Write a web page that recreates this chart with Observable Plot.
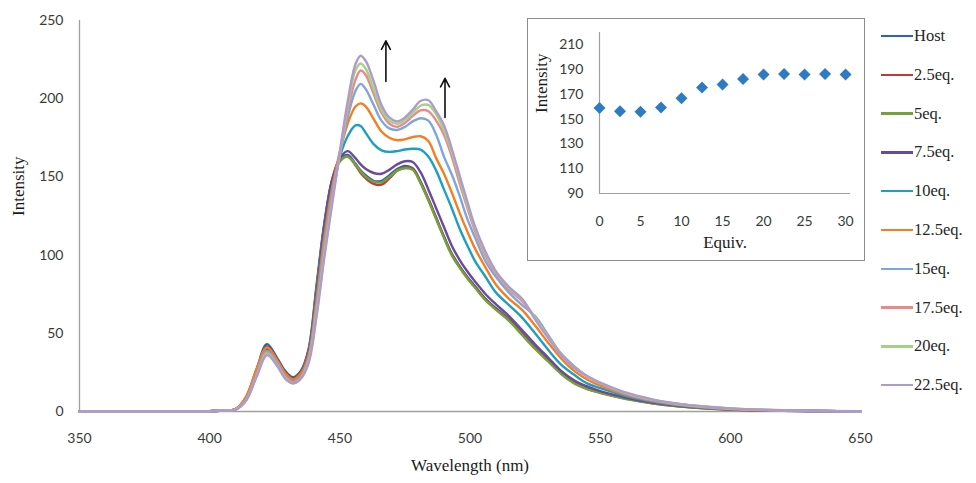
<!DOCTYPE html>
<html>
<head>
<meta charset="utf-8">
<script src="https://cdn.jsdelivr.net/npm/d3@7"></script>
<script src="https://cdn.jsdelivr.net/npm/@observablehq/plot@0.6"></script>
<style>
  html, body { margin: 0; padding: 0; background: #fff; }
  #wrap { position: relative; width: 976px; height: 483px; overflow: hidden; }
  #main { position: absolute; left: 0; top: 0; }
  #insetBox { position: absolute; left: 527px; top: 18px; width: 338px; height: 243px; box-sizing: border-box; border: 1px solid #8c8c8c; background: #fff; }
  #inset { position: absolute; left: 527px; top: 18px; }
  #legend { position: absolute; left: 881px; top: 0; }
  .lg-row { position: absolute; left: 0; height: 20px; white-space: nowrap; display: flex; align-items: center; }
  .lg-line { width: 32px; height: 2.5px; margin-right: 1px; }
  .lg-text { font-family: "Liberation Serif", "DejaVu Serif", serif; font-size: 16.5px; font-weight: normal; color: #262626; }
</style>
</head>
<body>
<div id="wrap">
  <div id="main"></div>
  <div id="insetBox"></div>
  <div id="inset"></div>
  <div id="legend"></div>
</div>
<script>
// ---------- data ----------
const wavelengths = [350,380,400,405,410,414,418,422,426,429,432,435,438,441,444,447,450,453,456,458,460,463,466,469,472,475,478,481,484,487,490,493,496,499,502,506,510,515,520,525,530,535,540,545,550,560,570,580,590,600,620,650];

const seriesNames = ["Host","2.5eq.","5eq.","7.5eq.","10eq.","12.5eq.","15eq.","17.5eq.","20eq.","22.5eq."];
const seriesColors = ["#2A66AE","#C4383A","#72A23A","#6C4A9A","#1E9FBE","#F57E22","#7EA6DE","#E88A8C","#A8CF86","#AE9BCB"];

const hostI   = [0,0,0.2,0.6,1.5,9,27,43,34,26,22,26,40,80,120,148,161,164,158.5,154,151,147.5,147.5,151,155,157,
                 155.5,147,136,124,112,101,93,86,80,72,66,59,50,41,33,25,19,15,12.5,8.5,5.5,3.5,2.2,1.3,0.5,0.1];
const eq2_5I  = [0,0,0.2,0.6,1.5,9,26,41.5,33,25,21,25,39,78,119,147,160,163,157.5,152.5,149,145.5,145,149,154,156,
                 155,146.5,135.5,123.5,111.5,100.5,92.5,85.5,79.5,71.5,65.5,58.5,49.5,40.5,32.5,24.5,18.5,14.5,12,8.2,5.3,3.4,2.1,1.2,0.5,0.1];
const eq5I    = [0,0,0.2,0.6,1.4,8.5,25.5,40.5,32.5,24.5,20.5,24.5,38,77,118,146.5,160,163,158,153.5,150,147,146.5,150,154,155.5,
                 154.5,146,135,123,111,100,92,85,79,71,65,58,49,40,32,24,18,14.3,12,8,5.2,3.3,2,1.2,0.5,0.1];
const eq7_5I  = [0,0,0.2,0.6,1.4,8.5,25,39.5,32,24,20,24,37.5,76,118,148,162,166.5,162,158,155,152.5,152,154.5,158,160,
                 159.5,153,142,130,118,106,97,89.5,83,75,68.5,61,52,43,34.5,26,20,16,13,8.8,5.7,3.6,2.3,1.4,0.5,0.1];
const eq10I   = [0,0,0.2,0.6,1.4,8.5,25,39,31.5,23.5,19.5,23,35,72,112,143,163,176,183,182.5,178,171,167,166,166.5,167.5,
                 168,167.5,163,154,142,130,117,106,96,86,76,68,60,50,39.5,30,23.5,18,15,9.8,6.3,4,2.5,1.5,0.6,0.1];
const eq12_5I = [0,0,0.2,0.7,1.6,9.5,27,41,32.5,24.5,20.5,24,36,70,110,142,166,184,195,197,195,187,179,175,173.5,174,
                 175.5,176,173,162,152,140,127,115,104,92,81,72,65,55,44,34,26,20.5,16.5,10.6,6.8,4.3,2.7,1.6,0.6,0.1];
const eq15I   = [0,0,0.2,0.6,1.3,8,24,38.5,31,22.5,19,22,34,66,105,138,164,188,205,209.5,206,196,186,181,180,182,
                 185.5,187.5,186,177,163,151.5,138,123,111,96,86,76,68,61,49,37,29,22.5,18,11.3,7.2,4.6,2.9,1.7,0.7,0.1];
const eq17_5I = [0,0,0.2,0.6,1.3,7.5,23,37.5,30,22,18.5,21.5,33,64,102,136,164,192,212,218,215,203,191,184,182,184.5,
                 189,192.5,192,186,177,163,146,130,115,99.5,88,78,70.5,60,48,36.5,28.5,22.5,18,11.6,7.4,4.7,3,1.8,0.7,0.15];
const eq20I   = [0,0,0.2,0.6,1.2,7,22.5,37,29.5,21.5,18,21,32,62,100,134,165,195,218,222.5,219,206,193,186,184,186.5,
                 191,195.5,196,190,180,166,149,132,117,101,89,79,71.5,60,47.5,36,28,22.5,18.3,11.8,7.6,4.8,3.1,1.9,0.75,0.15];
const eq22_5I = [0,0,0.2,0.6,1.2,7,22,36,29,21,18,21,31,60,98,132,166,198,222,227.5,224,211,196,188,185.5,188,
                 193,198.5,199,192,183,168,151,134,118,102,89.5,79.5,72,59,47,36,28,22.5,18.5,12,7.8,5,3.2,2,0.8,0.2];

const seriesValues = [hostI, eq2_5I, eq5I, eq7_5I, eq10I, eq12_5I, eq15I, eq17_5I, eq20I, eq22_5I];

const xTicks = [350,400,450,500,550,600,650];
const yTicks = [0,50,100,150,200,250];

// arrows (data units): wavelength, from intensity, to intensity
const arrowX  = [467.7, 490.4];
const arrowY1 = [211, 188];
const arrowY2 = [237, 213];

// inset
const equivs = [0,2.5,5,7.5,10,12.5,15,17.5,20,22.5,25,27.5,30];
const insetIntensity = [159,156.5,156,159.5,167,175.5,178,182.5,186,186.5,186,186.5,186];
const insetXTicks = [0,5,10,15,20,25,30];
const insetYTicks = [90,110,130,150,170,190,210];

// ---------- build tables ----------
const spectra = [];
seriesNames.forEach((name, si) => {
  wavelengths.forEach((w, wi) => spectra.push({name, wl: w, intensity: seriesValues[si][wi]}));
});
const arrowData = arrowX.map((x, i) => ({x, y1: arrowY1[i], y2: arrowY2[i]}));
const insetData = equivs.map((e, i) => ({e, v: insetIntensity[i]}));

const tickFont = "Lato, 'Open Sans', sans-serif";
const serif = "'Liberation Serif', 'DejaVu Serif', serif";

// ---------- main chart ----------
const main = Plot.plot({
  width: 976, height: 483,
  marginLeft: 79, marginRight: 116, marginTop: 20, marginBottom: 72,
  style: {fontFamily: tickFont, fontSize: "14px", color: "#3a3a3a", background: "transparent", overflow: "visible"},
  x: {domain: [350, 650], ticks: xTicks, tickSize: 0, tickPadding: 22, label: null, tickFormat: d => String(d)},
  y: {domain: [0, 250], ticks: yTicks, tickSize: 0, tickPadding: 16, label: null, tickFormat: d => String(d)},
  color: {domain: seriesNames, range: seriesColors},
  marks: [
    Plot.ruleY([0], {stroke: "#a0a0a0", strokeWidth: 1.3}),
    Plot.ruleX([350], {stroke: "#a0a0a0", strokeWidth: 1.3}),
    Plot.line(spectra, {x: "wl", y: "intensity", z: "name", stroke: "name", strokeWidth: 2.4, curve: "catmull-rom"}),
    Plot.arrow(arrowData, {x1: "x", y1: "y1", x2: "x", y2: "y2", stroke: "#111", strokeWidth: 1.6, headLength: 9, headAngle: 55}),
    Plot.text(["Wavelength (nm)"], {frameAnchor: "bottom", dy: 59, fontFamily: serif, fontSize: 17, fill: "#1a1a1a"}),
    Plot.text(["Intensity"], {frameAnchor: "left", dx: -61, rotate: -90, fontFamily: serif, fontSize: 17, fill: "#1a1a1a"})
  ]
});
document.getElementById("main").appendChild(main);

// ---------- inset ----------
const inset = Plot.plot({
  width: 338, height: 243,
  marginLeft: 72, marginRight: 15, marginTop: 14, marginBottom: 68,
  style: {fontFamily: tickFont, fontSize: "14px", color: "#3a3a3a", background: "transparent", overflow: "visible"},
  x: {domain: [0, 30.6], ticks: insetXTicks, tickSize: 0, tickPadding: 23, label: null, tickFormat: d => String(d)},
  y: {domain: [90, 220], ticks: insetYTicks, tickSize: 0, tickPadding: 16, label: null, tickFormat: d => String(d)},
  marks: [
    Plot.ruleY([90], {stroke: "#a0a0a0", strokeWidth: 1.2}),
    Plot.ruleX([0], {stroke: "#a0a0a0", strokeWidth: 1.2}),
    Plot.dot(insetData, {x: "e", y: "v", symbol: "diamond2", r: 5.4, fill: "#2E7BC4", stroke: "none"}),
    Plot.text(["Equiv."], {frameAnchor: "bottom", dy: 54, fontFamily: serif, fontSize: 17, fill: "#1a1a1a"}),
    Plot.text(["Intensity"], {frameAnchor: "left", dx: -58, rotate: -90, fontFamily: serif, fontSize: 17, fill: "#1a1a1a"})
  ]
});
document.getElementById("inset").appendChild(inset);

// ---------- legend ----------
const legend = document.getElementById("legend");
seriesNames.forEach((name, i) => {
  const row = document.createElement("div");
  row.className = "lg-row";
  row.style.top = (36 + i * 38.8 - 10) + "px";
  const ln = document.createElement("div");
  ln.className = "lg-line";
  ln.style.background = seriesColors[i];
  const tx = document.createElement("span");
  tx.className = "lg-text";
  tx.textContent = name;
  row.appendChild(ln); row.appendChild(tx);
  legend.appendChild(row);
});
</script>
</body>
</html>
